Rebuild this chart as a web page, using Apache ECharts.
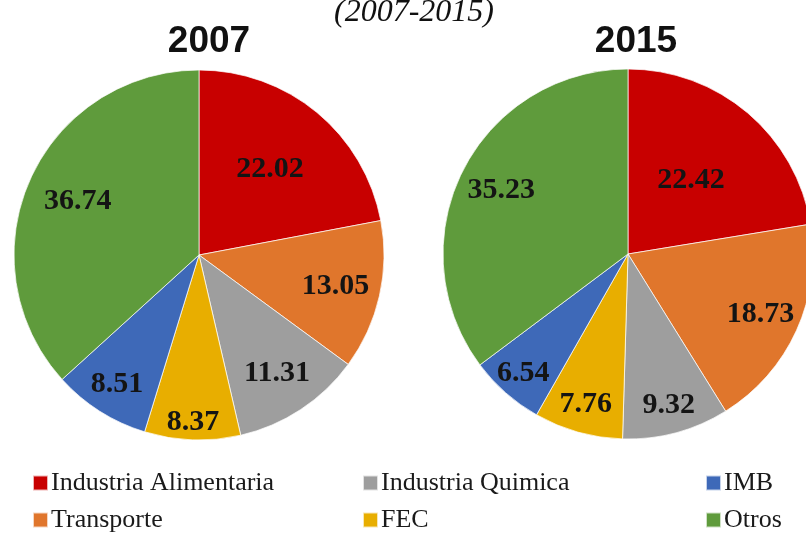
<!DOCTYPE html>
<html>
<head>
<meta charset="utf-8">
<script src="https://cdn.jsdelivr.net/npm/echarts@6/dist/echarts.min.js"></script>
<style>
  html, body { margin: 0; padding: 0; background: #fff; }
  #chart { width: 806px; height: 537px; }
</style>
</head>
<body>
<div id="chart"></div>
<script>
// slices in clockwise order, starting at 12 o'clock
var categories = ["Industria Alimentaria", "Transporte", "Industria Quimica", "FEC", "IMB", "Otros"];
var values2007 = [22.02, 13.05, 11.31, 8.37, 8.51, 36.74];
var values2015 = [22.42, 18.73, 9.32, 7.76, 6.54, 35.23];
var years = ["2007", "2015"];

var colors = ["#C80000", "#E0762C", "#9E9E9E", "#E8AE00", "#3E69B8", "#5F9B3C"];
// how far out each value label sits (fraction of radius)
var labelPos2007 = [0.585, 0.74, 0.75, 0.89, 0.81, 0.70];
var labelPos2015 = [0.51, 0.77, 0.83, 0.83, 0.84, 0.75];

var R = 185;

function midAngles(vals) {
  var total = vals.reduce(function (a, b) { return a + b; }, 0);
  var acc = 0;
  return vals.map(function (v) {
    var mid = (acc + v / 2) / total * Math.PI * 2;
    acc += v;
    return mid;
  });
}

function makePie(vals, center, labelPos) {
  var mids = midAngles(vals);
  return {
    type: "pie",
    radius: [0, R],
    center: center,
    startAngle: 90,
    clockwise: true,
    silent: true,
    itemStyle: { borderColor: "rgba(255,255,255,0.7)", borderWidth: 1 },
    label: {
      show: true,
      position: "inside",
      fontFamily: "Liberation Serif",
      fontWeight: "bold",
      fontSize: 30,
      color: "#141414",
      formatter: function (p) { return p.value.toFixed(2); }
    },
    labelLine: { show: false },
    labelLayout: function (p) {
      var k = labelPos[p.dataIndex] - 0.5;
      var a = mids[p.dataIndex];
      return { dx: k * R * Math.sin(a), dy: -k * R * Math.cos(a) };
    },
    data: vals.map(function (v, i) {
      return { name: categories[i], value: v, itemStyle: { color: colors[i] } };
    })
  };
}

// one legend per item so the 3x2 grid is column-major like the original
function legendItem(name, left, top) {
  return {
    left: left,
    top: top,
    padding: 0,
    icon: "rect",
    itemWidth: 15,
    itemHeight: 15,
    selectedMode: false,
    data: [name],
    textStyle: { fontFamily: "Liberation Serif", fontSize: 26, lineHeight: 26, color: "#1a1a1a", padding: [0, 0, 0, -2] }
  };
}

var myChart = echarts.init(document.getElementById("chart"), null, { renderer: "canvas" });

var option = {
  backgroundColor: "#fff",
  animation: false,
  graphic: [
    {
      type: "text", x: 414, y: 29,
      style: { text: "(2007-2015)", fontFamily: "Liberation Serif", fontStyle: "italic", fontSize: 32,
               fill: "#111", align: "center", verticalAlign: "bottom" }
    },
    {
      type: "text", x: 209, y: 42,
      style: { text: years[0], fontFamily: "Liberation Sans", fontWeight: "bold", fontSize: 37,
               fill: "#111", align: "center", verticalAlign: "middle" }
    },
    {
      type: "text", x: 636, y: 42,
      style: { text: years[1], fontFamily: "Liberation Sans", fontWeight: "bold", fontSize: 37,
               fill: "#111", align: "center", verticalAlign: "middle" }
    }
  ],
  legend: [
    legendItem(categories[0], 32, 470),
    legendItem(categories[1], 32, 507),
    legendItem(categories[2], 362, 470),
    legendItem(categories[3], 362, 507),
    legendItem(categories[4], 705, 470),
    legendItem(categories[5], 705, 507)
  ],
  series: [
    makePie(values2007, [199, 255], labelPos2007),
    makePie(values2015, [628, 254], labelPos2015)
  ]
};

myChart.setOption(option);
</script>
</body>
</html>
